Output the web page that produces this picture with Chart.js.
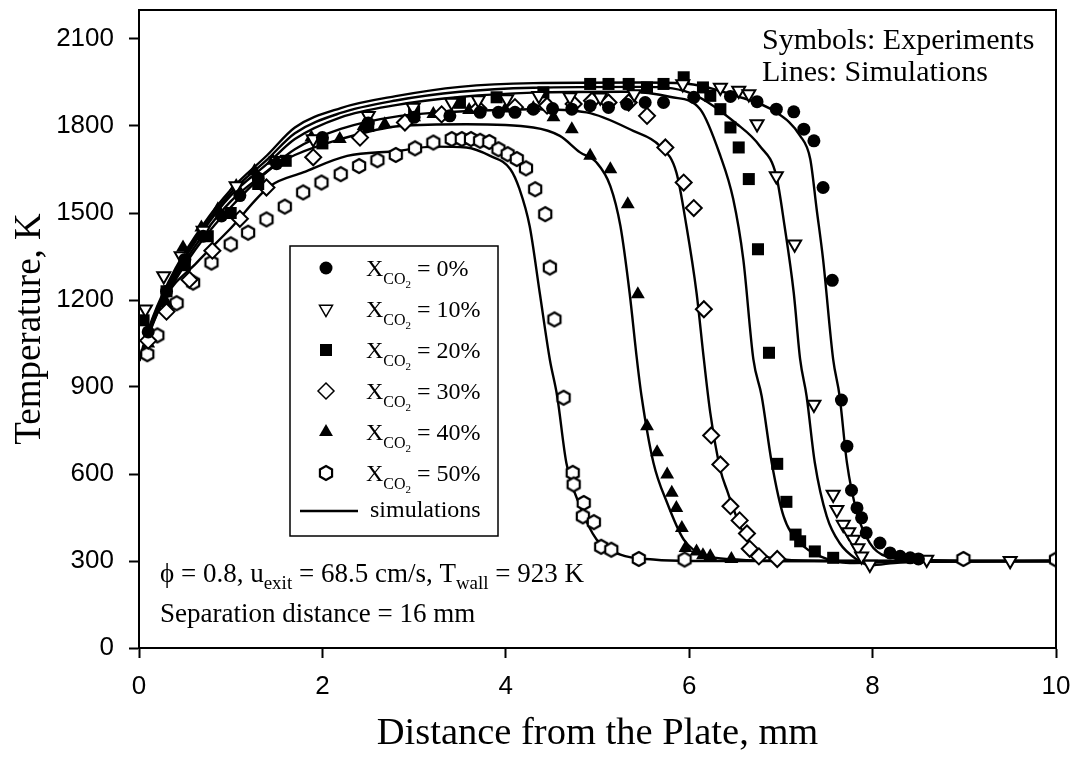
<!DOCTYPE html>
<html>
<head>
<meta charset="utf-8">
<title>Temperature profiles</title>
<script src="https://cdn.jsdelivr.net/npm/chart.js@4.4.0/dist/chart.umd.min.js"></script>
<style>
  body { margin: 0; background: #fff; }
  #wrap { width: 1076px; height: 757px; }
</style>
</head>
<body>
<div id="wrap"><canvas id="myChart" width="1076" height="757"></canvas></div>
<script>
// experiments, [distance mm, temperature K]
const exp0 = [[0.1,1090],[0.3,1230],[0.5,1340],[0.7,1420],[0.9,1490],[1.1,1560],[1.3,1620],[1.5,1670],[2.0,1760],[2.5,1810],[3.0,1830],[3.39,1835],[3.72,1847],[3.92,1847],[4.10,1847],[4.30,1858],[4.51,1860],[4.72,1858],[4.92,1870],[5.12,1864],[5.32,1875],[5.52,1881],[5.72,1881],[6.05,1899],[6.45,1902],[6.74,1884],[6.95,1858],[7.14,1849],[7.25,1789],[7.36,1749],[7.46,1588],[7.56,1268],[7.66,855],[7.72,696],[7.77,544],[7.83,483],[7.88,449],[7.93,397],[8.08,362],[8.19,328],[8.30,316],[8.41,311],[8.50,307]];
const exp10 = [[0.07,1168],[0.27,1283],[0.46,1352],[0.7,1440],[1.06,1593],[1.5,1680],[1.90,1755],[2.5,1835],[2.99,1864],[3.41,1881],[3.7,1890],[4.01,1893],[4.36,1904],[4.7,1900],[5.03,1899],[5.4,1910],[5.93,1945],[6.34,1933],[6.54,1922],[6.65,1910],[6.74,1807],[6.95,1628],[7.15,1392],[7.36,840],[7.57,529],[7.61,477],[7.68,426],[7.74,400],[7.79,374],[7.84,345],[7.88,316],[7.97,288],[8.59,305],[9.5,301]];
const exp20 = [[0.05,1130],[0.3,1230],[0.5,1320],[0.75,1420],[1.0,1500],[1.3,1600],[1.6,1680],[2.0,1740],[2.5,1800],[3.0,1850],[3.5,1880],[3.90,1899],[4.41,1916],[4.92,1945],[5.12,1945],[5.34,1945],[5.54,1933],[5.72,1945],[5.94,1968],[6.15,1933],[6.23,1904],[6.34,1858],[6.45,1795],[6.54,1726],[6.65,1617],[6.75,1375],[6.87,1018],[6.96,635],[7.06,504],[7.16,391],[7.21,368],[7.37,333],[7.57,311]];
const exp30 = [[0.1,1060],[0.3,1160],[0.55,1270],[0.8,1370],[1.1,1480],[1.39,1588],[1.90,1692],[2.41,1760],[2.90,1812],[3.3,1840],[3.7,1860],[4.1,1865],[4.45,1870],[4.74,1876],[4.94,1887],[5.12,1881],[5.34,1881],[5.54,1835],[5.74,1726],[5.94,1605],[6.05,1517],[6.16,1168],[6.24,733],[6.34,633],[6.45,489],[6.55,440],[6.63,395],[6.66,342],[6.76,316],[6.96,307]];
const exp40 = [[0.1,1050],[0.3,1190],[0.48,1381],[0.68,1450],[0.86,1513],[1.06,1593],[1.26,1645],[1.46,1680],[1.88,1760],[2.19,1755],[2.45,1800],[2.68,1806],[3.0,1830],[3.21,1841],[3.6,1855],[4.0,1860],[4.3,1862],[4.52,1830],[4.72,1789],[4.92,1697],[5.14,1651],[5.33,1530],[5.44,1220],[5.54,765],[5.65,675],[5.76,598],[5.81,535],[5.86,483],[5.92,414],[5.96,345],[6.08,333],[6.15,320],[6.23,316],[6.46,307]];
const exp50 = [[0.09,1013],[0.2,1078],[0.41,1189],[0.59,1260],[0.79,1329],[1.0,1392],[1.19,1432],[1.39,1478],[1.59,1522],[1.79,1571],[1.99,1605],[2.2,1634],[2.4,1662],[2.6,1682],[2.8,1700],[3.01,1723],[3.21,1743],[3.41,1755],[3.52,1755],[3.62,1755],[3.72,1749],[3.82,1745],[3.92,1720],[4.02,1703],[4.12,1686],[4.22,1654],[4.32,1582],[4.43,1496],[4.48,1312],[4.53,1133],[4.63,863],[4.73,604],[4.74,564],[4.85,500],[4.84,454],[4.96,434],[5.04,349],[5.15,339],[5.45,307],[5.95,305],[8.99,307],[10.0,305]];

// simulations
const sim0 = [[0,990],[0.15,1140],[0.4,1310],[0.7,1460],[1.0,1580],[1.4,1700],[1.7,1795],[2.2,1862],[2.8,1903],[3.5,1935],[4.3,1948],[5.5,1950],[6.0,1945],[6.5,1905],[6.95,1847],[7.21,1766],[7.32,1686],[7.39,1513],[7.46,1340],[7.57,995],[7.64,869],[7.72,639],[7.83,466],[7.97,362],[8.15,316],[8.48,305],[9.0,300],[10,300]];
const sim10 = [[0,990],[0.15,1135],[0.4,1300],[0.7,1450],[1.0,1570],[1.4,1685],[1.7,1775],[2.2,1845],[2.8,1888],[3.5,1918],[4.3,1932],[5.5,1935],[6.0,1915],[6.52,1807],[6.77,1731],[6.95,1628],[7.04,1455],[7.14,1225],[7.21,995],[7.28,869],[7.37,639],[7.50,454],[7.64,362],[7.83,305],[7.97,285],[8.3,295],[10,300]];
const sim20 = [[0,990],[0.15,1130],[0.4,1290],[0.7,1440],[1.0,1560],[1.4,1670],[1.7,1755],[2.2,1830],[2.8,1872],[3.5,1900],[4.3,1915],[5.3,1918],[5.8,1900],[6.12,1858],[6.34,1697],[6.48,1548],[6.59,1340],[6.70,995],[6.79,869],[6.90,639],[7.03,454],[7.21,362],[7.43,316],[7.75,293],[8.2,296],[10,300]];
const sim30 = [[0,990],[0.15,1125],[0.4,1280],[0.7,1425],[1.0,1540],[1.4,1645],[1.7,1720],[2.2,1790],[2.85,1835],[3.5,1850],[4.3,1858],[4.88,1847],[5.39,1783],[5.68,1731],[5.86,1640],[5.97,1455],[6.08,1225],[6.16,995],[6.23,811],[6.34,615],[6.41,546],[6.59,397],[6.77,328],[7.03,305],[7.5,300],[10,300]];
const sim40 = [[0,990],[0.15,1120],[0.4,1270],[0.7,1410],[1.0,1520],[1.43,1651],[1.7,1700],[2.2,1755],[2.85,1800],[3.57,1806],[4.30,1795],[4.59,1766],[4.81,1709],[4.99,1674],[5.14,1593],[5.25,1455],[5.35,1225],[5.43,995],[5.48,869],[5.61,639],[5.76,500],[5.94,374],[6.15,322],[6.52,305],[7,300],[10,300]];
const sim50 = [[0,990],[0.27,1202],[0.63,1329],[0.99,1444],[1.43,1593],[1.79,1640],[2.27,1697],[2.81,1714],[3.21,1729],[3.57,1726],[3.83,1697],[4.05,1651],[4.15,1582],[4.26,1455],[4.37,1225],[4.48,995],[4.56,869],[4.66,639],[4.81,489],[4.99,374],[5.25,322],[5.61,305],[6,300],[10,300]];

const labels = ['0%', '10%', '20%', '30%', '40%', '50%'];
const xTicks = [0, 2, 4, 6, 8, 10];
const yTicks = [0, 300, 600, 900, 1200, 1500, 1800, 2100];

const serif = '"Liberation Serif", "Times New Roman", serif';
const sans = '"Liberation Sans", Arial, sans-serif';

// open hexagon, chart.js has no such point style
function hexagon(r) {
  const c = document.createElement('canvas');
  c.width = c.height = 2 * r + 4;
  const g = c.getContext('2d');
  const m = c.width / 2;
  g.beginPath();
  for (let i = 0; i < 6; i++) {
    const a = -Math.PI / 2 + i * Math.PI / 3;
    g.lineTo(m + r * Math.cos(a), m + r * Math.sin(a));
  }
  g.closePath();
  g.fillStyle = '#fff';
  g.fill();
  g.lineWidth = 2.2;
  g.strokeStyle = '#000';
  g.stroke();
  return c;
}

const markers = [
  { pointStyle: 'circle', pointRadius: 6.5, pointBackgroundColor: '#000', pointBorderWidth: 0 },
  { pointStyle: 'triangle', pointRotation: 180, pointRadius: 7.5, pointBackgroundColor: '#fff', pointBorderWidth: 2 },
  { pointStyle: 'rect', pointRadius: 8.5, pointBackgroundColor: '#000', pointBorderWidth: 0 },
  { pointStyle: 'rectRot', pointRadius: 8, pointBackgroundColor: '#fff', pointBorderWidth: 2 },
  { pointStyle: 'triangle', pointRadius: 8, pointBackgroundColor: '#000', pointBorderWidth: 0 },
  { pointStyle: hexagon(7), pointRadius: 7, pointBackgroundColor: '#fff', pointBorderWidth: 2 }
];

const toXY = (pts) => pts.map((p) => ({ x: p[0], y: p[1] }));

const datasets = [];
[exp0, exp10, exp20, exp30, exp40, exp50].forEach((pts, i) => {
  datasets.push(Object.assign({
    type: 'scatter',
    label: 'X_CO2 = ' + labels[i],
    data: toXY(pts),
    pointBorderColor: '#000',
    order: 1
  }, markers[i]));
});
[sim0, sim10, sim20, sim30, sim40, sim50].forEach((pts, i) => {
  datasets.push({
    type: 'line',
    label: 'simulation ' + labels[i],
    data: toXY(pts),
    showLine: true,
    borderColor: '#000',
    borderWidth: 2.4,
    pointRadius: 0,
    fill: false,
    cubicInterpolationMode: 'monotone',
    order: 2
  });
});

// write text with subscripts, parts = [text, size, shift]
function richText(ctx, parts, x, y) {
  parts.forEach((p) => {
    ctx.font = p[1] + 'px ' + serif;
    ctx.fillText(p[0], x, y + (p[2] || 0));
    x += ctx.measureText(p[0]).width;
  });
  return x;
}

const annotations = {
  id: 'annotations',
  afterDraw(chart) {
    const ctx = chart.ctx;
    const a = chart.chartArea;
    ctx.save();
    ctx.strokeStyle = '#000';
    ctx.fillStyle = '#000';
    ctx.lineWidth = 2;
    ctx.strokeRect(a.left, a.top, a.right - a.left, a.bottom - a.top);

    ctx.textAlign = 'left';
    ctx.textBaseline = 'alphabetic';
    richText(ctx, [['Symbols: Experiments', 30]], 762, 49);
    richText(ctx, [['Lines: Simulations', 30]], 762, 81);

    richText(ctx, [['\u03d5 = 0.8, u', 27], ['exit', 19, 7], [' = 68.5 cm/s, T', 27], ['wall', 19, 7], [' = 923 K', 27]], 160, 582);
    richText(ctx, [['Separation distance = 16 mm', 27]], 160, 622);

    // legend box
    ctx.lineWidth = 1.5;
    ctx.strokeRect(290, 246, 208, 290);
    markers.forEach((m, i) => {
      const cy = 268 + i * 41;
      ctx.fillStyle = m.pointBackgroundColor;
      ctx.strokeStyle = '#000';
      Chart.helpers.drawPoint(ctx, {
        pointStyle: m.pointStyle,
        radius: m.pointRadius,
        rotation: m.pointRotation || 0,
        borderWidth: m.pointBorderWidth
      }, 326, cy);
      ctx.fillStyle = '#000';
      richText(ctx, [['X', 24], ['CO', 16, 8], ['2', 11, 12], [' = ' + labels[i], 24]], 366, cy + 8);
    });
    ctx.lineWidth = 2.4;
    ctx.beginPath();
    ctx.moveTo(300, 511);
    ctx.lineTo(358, 511);
    ctx.stroke();
    richText(ctx, [['simulations', 24]], 370, 517);
    ctx.restore();
  }
};

const ctx = document.getElementById('myChart').getContext('2d');

const myChart = new Chart(ctx, {
  type: 'scatter',
  data: { datasets: datasets },
  options: {
    responsive: false,
    animation: false,
    layout: { padding: { top: 10, right: 20, left: 0, bottom: 0 } },
    plugins: { legend: { display: false }, tooltip: { enabled: false } },
    scales: {
      x: {
        type: 'linear',
        min: xTicks[0],
        max: xTicks[xTicks.length - 1],
        afterBuildTicks: (s) => { s.ticks = xTicks.map((v) => ({ value: v })); },
        ticks: { color: '#000', font: { family: sans, size: 26 }, padding: 13, maxRotation: 0, callback: (v) => String(v) },
        grid: { drawOnChartArea: false, color: '#000', tickLength: 10, tickWidth: 2 },
        border: { color: '#000', width: 2 },
        title: { display: true, text: 'Distance from the Plate, mm', color: '#000', font: { family: serif, size: 38.5 }, padding: { top: 0, bottom: 0 } },
        afterFit: (s) => { s.height = 109; s.paddingLeft = 0; s.paddingRight = 0; }
      },
      y: {
        type: 'linear',
        min: 0,
        max: 2200,
        afterBuildTicks: (s) => { s.ticks = yTicks.map((v) => ({ value: v })); },
        ticks: { color: '#000', font: { family: sans, size: 26 }, padding: 15, callback: (v) => String(v) },
        grid: { drawOnChartArea: false, color: '#000', tickLength: 10, tickWidth: 2 },
        border: { color: '#000', width: 2 },
        title: { display: true, text: 'Temperature, K', color: '#000', font: { family: serif, size: 37 }, padding: { top: 8, bottom: 0 } },
        afterFit: (s) => { s.width = 139; s.paddingTop = 0; s.paddingBottom = 0; }
      }
    }
  },
  plugins: [annotations]
});
</script>
</body>
</html>
